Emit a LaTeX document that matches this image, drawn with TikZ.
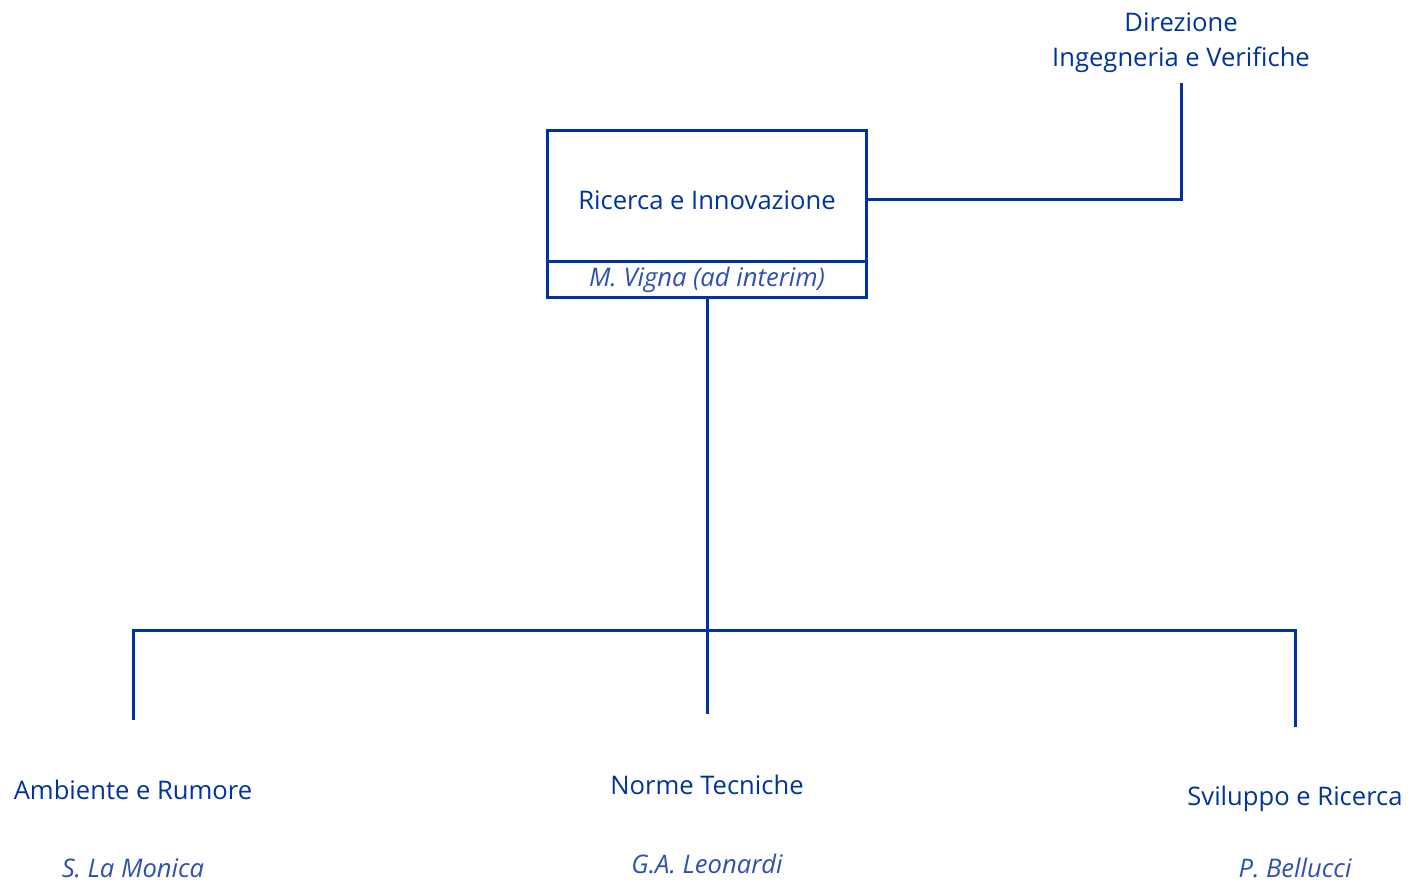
\documentclass[tikz,border=0pt]{standalone}
\usepackage{fontspec}
\setmainfont{Open Sans}
\definecolor{ink}{RGB}{0,51,160}
\definecolor{inklight}{RGB}{45,80,178}
\begin{document}
\begin{tikzpicture}[x=1pt,y=-1pt,
  lbl/.style={text=ink,font=\fontsize{25.6}{35}\selectfont,inner sep=0pt,align=center,anchor=center},
  who/.style={text=inklight,font=\fontsize{25.6}{35}\selectfont\itshape,inner sep=0pt,anchor=center},
  wire/.style={draw=ink,line width=3pt}]
\useasboundingbox (0,0) rectangle (1410,879);
% main box
\draw[wire] (547,130) rectangle (866,297);
\draw[wire] (547,261) -- (866,261);
\coordinate (boxE) at (866,199);
\coordinate (boxS) at (707,297);
\node[lbl] (ri) at (707,200) {Ricerca e Innovazione};
\node[who] (mv) at (707,280) {M. Vigna (ad interim)};
% top right
\node[lbl] (dir) at (1181,43) {Direzione\\Ingegneria e Verifiche};
\coordinate (dirS) at (1181,83);
\draw[wire] (boxE) -- (dirS |- boxE) -- (dirS);
% tree
\coordinate (j) at (707,630);
\coordinate (l1) at (133,720);
\coordinate (l2) at (707,714);
\coordinate (l3) at (1295,727);
\draw[wire] (boxS) -- (j) -- (l2);
\draw[wire] (l1) -- (l1 |- j) -- (l3 |- j) -- (l3);
% leaves
\node[lbl] (amb) at (133,790) {Ambiente e Rumore};
\node[who] (slm) at (133,868) {S. La Monica};
\node[lbl] (nt) at (707,785) {Norme Tecniche};
\node[who] (gal) at (707,864) {G.A. Leonardi};
\node[lbl] (svr) at (1295,799) {Sviluppo e Ricerca};
\node[who] (pb) at (1295,868) {P. Bellucci};
\end{tikzpicture}
\end{document}
